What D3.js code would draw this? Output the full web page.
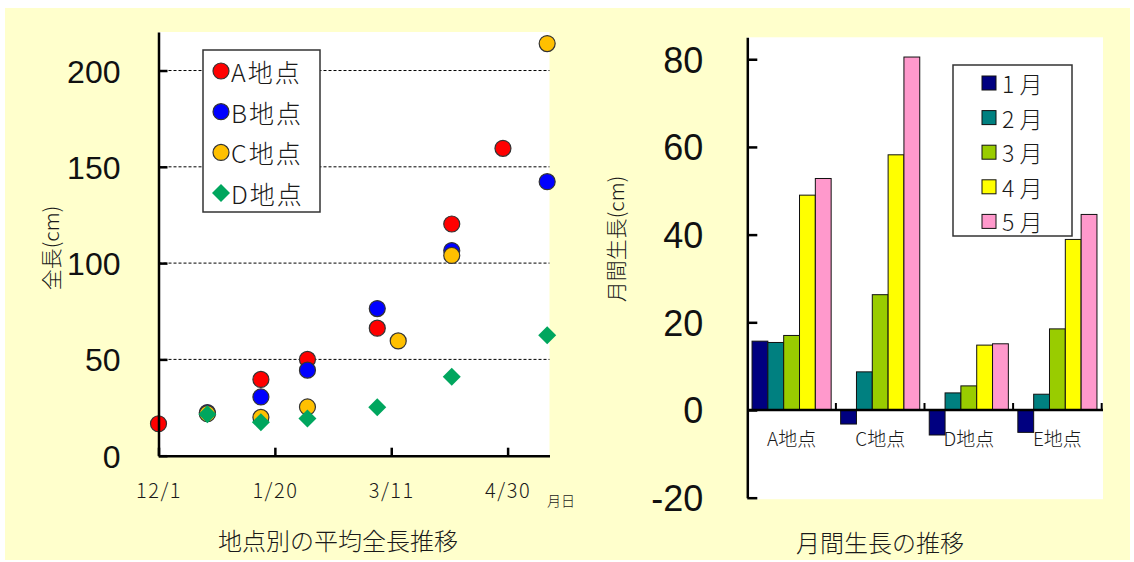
<!DOCTYPE html>
<html lang="ja">
<head>
<meta charset="utf-8">
<script src="https://cdn.jsdelivr.net/npm/d3@7"></script>
<style>
  html, body { margin: 0; padding: 0; background: #ffffff; }
  svg { display: block; }
  .jp { font-family: "Noto Sans CJK JP", "Noto Sans", sans-serif; font-weight: 300; fill: #1a1a1a; }
  .num { font-family: "Liberation Sans", Arial, sans-serif; fill: #111; }
</style>
</head>
<body>
<svg id="chart" width="1134" height="562"></svg>
<script>
// ---- Scatter: average total length per site ----
const siteNames = ["A地点", "B地点", "C地点", "D地点"];
const siteColors = ["#ff0000", "#0000ff", "#ffc000", "#00a65e"];
const siteShapes = ["circle", "circle", "circle", "diamond"];

const aDates  = ["2006-12-01", "2007-01-14", "2007-02-03", "2007-03-05", "2007-04-06", "2007-04-28"];
const aValues = [16.6, 39.6, 50.0, 66.2, 120.3, 159.6];
const bDates  = ["2006-12-22", "2007-01-14", "2007-02-03", "2007-03-05", "2007-04-06", "2007-05-17"];
const bValues = [22.4, 30.5, 44.4, 76.4, 106.5, 142.3];
const cDates  = ["2006-12-22", "2007-01-14", "2007-02-03", "2007-03-14", "2007-04-06", "2007-05-17"];
const cValues = [21.8, 19.9, 25.3, 59.6, 104.0, 214.0];
const dDates  = ["2006-12-22", "2007-01-14", "2007-02-03", "2007-03-05", "2007-04-06", "2007-05-17"];
const dValues = [21.5, 17.4, 19.3, 25.2, 41.0, 62.6];

const dateTicks = ["2006-12-01", "2007-01-20", "2007-03-11", "2007-04-30"];
const dateTickLabels = ["12/1", "1/20", "3/11", "4/30"];
const lengthTicks = [0, 50, 100, 150, 200];

// ---- Bars: monthly growth per site ----
const growthSites = ["A地点", "C地点", "D地点", "E地点"];
const months = ["1 月", "2 月", "3 月", "4 月", "5 月"];
const monthColors = ["#000080", "#008080", "#99cc00", "#ffff00", "#ff99cc"];
const growthA = [15.7, 15.4, 17.0, 49.0, 52.8];
const growthC = [-3.2, 8.7, 26.3, 58.2, 80.5];
const growthD = [-5.7, 3.9, 5.5, 14.8, 15.1];
const growthE = [-5.1, 3.6, 18.5, 38.9, 44.6];
const growthTicks = [-20, 0, 20, 40, 60, 80];

const svg = d3.select("#chart");
const parse = d3.utcParse("%Y-%m-%d");

// panel background
svg.append("rect").attr("x", 5).attr("y", 8).attr("width", 1125).attr("height", 552)
  .attr("fill", "#ffffcc");

// ================= left chart =================
const L = { left: 158.5, right: 549.5, top: 32, bottom: 455.7 };
const xL = d3.scaleUtc().domain([parse("2006-12-01"), parse("2007-05-18")]).range([L.left, L.right]);
const yL = d3.scaleLinear().domain([0, 220]).range([L.bottom, L.top]);

svg.append("rect").attr("x", L.left).attr("y", L.top)
  .attr("width", L.right - L.left).attr("height", L.bottom - L.top).attr("fill", "#fff");

// dashed gridlines
svg.append("g").selectAll("line").data(lengthTicks.filter(d => d > 0)).join("line")
  .attr("x1", L.left).attr("x2", L.right)
  .attr("y1", d => yL(d)).attr("y2", d => yL(d))
  .attr("stroke", "#000").attr("stroke-width", 1).attr("stroke-dasharray", "3,2");

const series = [
  { dates: aDates, values: aValues },
  { dates: bDates, values: bValues },
  { dates: cDates, values: cValues },
  { dates: dDates, values: dValues }
];

const diamond = r => `M0,${-r}L${r},0L0,${r}L${-r},0Z`;

const marks = svg.append("g");
series.forEach((s, i) => {
  const pts = s.dates.map((d, j) => ({ x: xL(parse(d)), y: yL(s.values[j]) }));
  if (siteShapes[i] === "circle") {
    marks.append("g").selectAll("circle").data(pts).join("circle")
      .attr("cx", p => p.x).attr("cy", p => p.y).attr("r", 8)
      .attr("fill", siteColors[i]).attr("stroke", "#333").attr("stroke-width", 1.2);
  } else {
    marks.append("g").selectAll("path").data(pts).join("path")
      .attr("transform", p => `translate(${p.x},${p.y})`)
      .attr("d", diamond(9)).attr("fill", siteColors[i]);
  }
});

// axes
const axL = svg.append("g").attr("transform", `translate(${L.left},0)`)
  .call(d3.axisLeft(yL).tickValues(lengthTicks).tickSizeInner(-9).tickSizeOuter(0).tickPadding(38)
    .tickFormat(d => String(d)));
const axB = svg.append("g").attr("transform", `translate(0,${L.bottom})`)
  .call(d3.axisBottom(xL).tickValues(dateTicks.map(parse)).tickSizeInner(-8).tickSizeOuter(0)
    .tickFormat((d, i) => dateTickLabels[i]));
[axL, axB].forEach(g => {
  g.select(".domain").attr("stroke", "#000").attr("stroke-width", 2.5);
  g.selectAll(".tick line").attr("stroke", "#000").attr("stroke-width", 2.5);
});
axL.selectAll(".tick text").attr("class", "num").attr("font-size", 32).attr("dy", "0.36em");
axB.selectAll(".tick text").attr("class", "jp").attr("font-size", 20).attr("y", 34).attr("dy", "0")
  .attr("letter-spacing", 1.5).attr("dominant-baseline", "central");
svg.selectAll(".tick text").attr("font-family", null);

svg.append("text").attr("class", "jp").attr("x", 561).attr("y", 500)
  .attr("font-size", 14).attr("text-anchor", "middle").attr("dominant-baseline", "central").text("月日");

svg.append("text").attr("class", "jp")
  .attr("transform", "translate(50,248) rotate(-90)")
  .attr("font-size", 21).attr("text-anchor", "middle").attr("dominant-baseline", "central").text("全長(cm)");

svg.append("text").attr("class", "jp").attr("x", 338).attr("y", 539)
  .attr("font-size", 24).attr("text-anchor", "middle").attr("dominant-baseline", "central")
  .text("地点別の平均全長推移");

// legend (left)
const legL = svg.append("g");
legL.append("rect").attr("x", 203).attr("y", 50).attr("width", 117).attr("height", 162)
  .attr("fill", "#fff").attr("stroke", "#333").attr("stroke-width", 1.5);
siteNames.forEach((name, i) => {
  const cy = 71 + i * 40.7;
  if (siteShapes[i] === "circle") {
    legL.append("circle").attr("cx", 221).attr("cy", cy).attr("r", 8)
      .attr("fill", siteColors[i]).attr("stroke", "#333").attr("stroke-width", 1.2);
  } else {
    legL.append("path").attr("transform", `translate(221,${cy})`).attr("d", diamond(9))
      .attr("fill", siteColors[i]);
  }
  legL.append("text").attr("class", "jp").attr("x", 231).attr("y", cy)
    .attr("font-size", 25).attr("letter-spacing", 2).attr("dominant-baseline", "central").text(name);
});

// ================= right chart =================
const R = { left: 747.3, right: 1101.7, plotRight: 1103, top: 37.3, bottom: 497.7 };
const xR = d3.scaleBand().domain(growthSites).range([R.left, R.right]).paddingInner(0).paddingOuter(0);
const xM = d3.scaleBand().domain(months).range([0, xR.bandwidth()]).paddingInner(0).paddingOuter(0.3);
const yR = d3.scaleLinear().domain([-20, 85]).range([R.bottom, R.top]);

svg.append("rect").attr("x", R.left).attr("y", R.top)
  .attr("width", R.plotRight - R.left).attr("height", R.bottom - R.top + 1.5).attr("fill", "#fff");

// category labels (bars overlap them)
svg.append("g").selectAll("text").data(growthSites).join("text")
  .attr("class", "jp").attr("x", d => xR(d) + xR.bandwidth() / 2).attr("y", 437)
  .attr("font-size", 19).attr("text-anchor", "middle").attr("dominant-baseline", "central")
  .text(d => d);

const growth = [growthA, growthC, growthD, growthE];
const barData = growthSites.flatMap((site, i) =>
  months.map((m, j) => ({ site, m, j, v: growth[i][j] })));

svg.append("g").selectAll("rect").data(barData).join("rect")
  .attr("x", d => xR(d.site) + xM(d.m))
  .attr("width", xM.bandwidth())
  .attr("y", d => yR(Math.max(0, d.v)))
  .attr("height", d => Math.abs(yR(d.v) - yR(0)))
  .attr("fill", d => monthColors[d.j])
  .attr("stroke", "#111").attr("stroke-width", 1);

// zero baseline with category separators
const axZ = svg.append("g").attr("transform", `translate(0,${yR(0)})`);
axZ.append("line").attr("x1", R.left).attr("x2", R.plotRight).attr("y1", 0).attr("y2", 0)
  .attr("stroke", "#000").attr("stroke-width", 2.5);
axZ.selectAll("line.sep").data(growthSites).join("line").attr("class", "sep")
  .attr("x1", d => xR(d) + xR.bandwidth()).attr("x2", d => xR(d) + xR.bandwidth())
  .attr("y1", 0).attr("y2", -7).attr("stroke", "#000").attr("stroke-width", 2);

const axR = svg.append("g").attr("transform", `translate(${R.left},0)`)
  .call(d3.axisLeft(yR).tickValues(growthTicks).tickSizeInner(-10).tickSizeOuter(0).tickPadding(44)
    .tickFormat(d => String(d)));
axR.select(".domain").attr("stroke", "#000").attr("stroke-width", 2.5);
axR.selectAll(".tick line").attr("stroke", "#000").attr("stroke-width", 2.5);
axR.selectAll(".tick text").attr("class", "num").attr("font-size", 36).attr("dy", "0.36em")
  .attr("font-family", null);

svg.append("text").attr("class", "jp")
  .attr("transform", "translate(615,239) rotate(-90)")
  .attr("font-size", 21).attr("text-anchor", "middle").attr("dominant-baseline", "central").text("月間生長(cm)");

svg.append("text").attr("class", "jp").attr("x", 880).attr("y", 541)
  .attr("font-size", 24).attr("text-anchor", "middle").attr("dominant-baseline", "central")
  .text("月間生長の推移");

// legend (right)
const legR = svg.append("g");
legR.append("rect").attr("x", 953).attr("y", 65).attr("width", 119).attr("height", 171)
  .attr("fill", "#fff").attr("stroke", "#333").attr("stroke-width", 1.5);
months.forEach((m, i) => {
  const cy = 83 + i * 34.6;
  legR.append("rect").attr("x", 982).attr("y", cy - 7).attr("width", 14).attr("height", 14)
    .attr("fill", monthColors[i]).attr("stroke", "#111").attr("stroke-width", 1);
  legR.append("text").attr("class", "jp").attr("x", 1002).attr("y", cy)
    .attr("font-size", 23).attr("dominant-baseline", "central").text(m);
});
</script>
</body>
</html>
